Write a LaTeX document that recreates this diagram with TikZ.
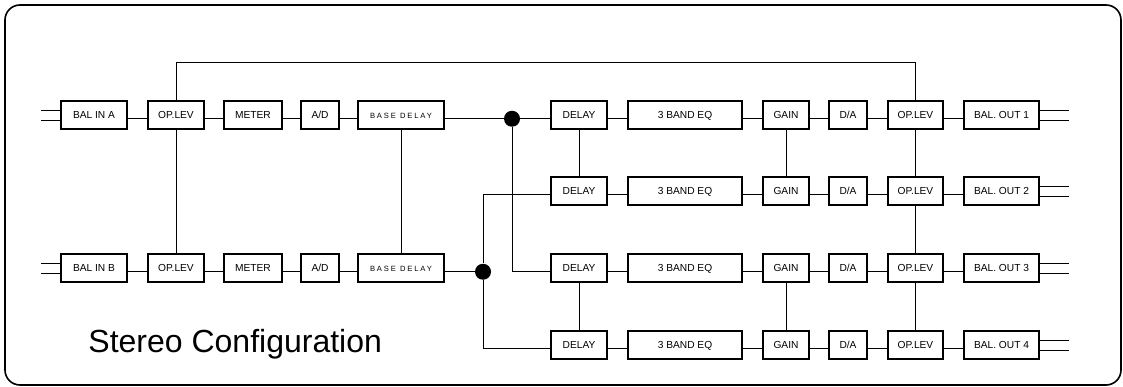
\documentclass[tikz,border=0pt]{standalone}
\usepackage{fontspec}
\setmainfont{Liberation Sans}
\newfontfamily\spacedfont[LetterSpace=25]{Liberation Sans}

\tikzset{
  blk/.style={draw, line width=1.8pt, minimum height=28pt, inner sep=0pt,
    text height=7.5pt, text depth=0pt, font=\fontsize{10.2}{12}\selectfont},
  jdot/.style={circle, fill, inner sep=0pt, minimum size=16pt},
}

\begin{document}
\begin{tikzpicture}[x=1pt, y=-1pt, line width=0.9pt]
    \useasboundingbox (0,0) rectangle (1123,387);
    \draw[line width=1.6pt, rounded corners=15pt] (5,5) rectangle (1121,385);

    % Input A
    \node[blk, minimum width=66pt] (inA) at (94,115) {BAL IN A};
    \node[blk, minimum width=56pt] (opA) at (176,115) {OP.LEV};
    \node[blk, minimum width=58pt] (mtA) at (253,115) {METER};
    \node[blk, minimum width=38pt] (adA) at (320,115) {A/D};
    \node[blk, minimum width=86pt] (bdA) at (401,115) {\spacedfont\fontsize{7.6}{8}\selectfont BASE DELAY};

    % Input B
    \node[blk, minimum width=66pt] (inB) at (94,268) {BAL IN B};
    \node[blk, minimum width=56pt] (opB) at (176,268) {OP.LEV};
    \node[blk, minimum width=58pt] (mtB) at (253,268) {METER};
    \node[blk, minimum width=38pt] (adB) at (320,268) {A/D};
    \node[blk, minimum width=86pt] (bdB) at (401,268) {\spacedfont\fontsize{7.6}{8}\selectfont BASE DELAY};

    % Output 1
    \node[blk, minimum width=56pt] (dl1) at (579,115) {DELAY};
    \node[blk, minimum width=114pt] (eq1) at (685,115) {3 BAND EQ};
    \node[blk, minimum width=46pt] (gn1) at (786,115) {GAIN};
    \node[blk, minimum width=38pt] (da1) at (848,115) {D/A};
    \node[blk, minimum width=55pt] (op1) at (915.5,115) {OP.LEV};
    \node[blk, minimum width=75pt] (out1) at (1001.5,115) {BAL. OUT 1};

    % Output 2
    \node[blk, minimum width=56pt] (dl2) at (579,191) {DELAY};
    \node[blk, minimum width=114pt] (eq2) at (685,191) {3 BAND EQ};
    \node[blk, minimum width=46pt] (gn2) at (786,191) {GAIN};
    \node[blk, minimum width=38pt] (da2) at (848,191) {D/A};
    \node[blk, minimum width=55pt] (op2) at (915.5,191) {OP.LEV};
    \node[blk, minimum width=75pt] (out2) at (1001.5,191) {BAL. OUT 2};

    % Output 3
    \node[blk, minimum width=56pt] (dl3) at (579,268) {DELAY};
    \node[blk, minimum width=114pt] (eq3) at (685,268) {3 BAND EQ};
    \node[blk, minimum width=46pt] (gn3) at (786,268) {GAIN};
    \node[blk, minimum width=38pt] (da3) at (848,268) {D/A};
    \node[blk, minimum width=55pt] (op3) at (915.5,268) {OP.LEV};
    \node[blk, minimum width=75pt] (out3) at (1001.5,268) {BAL. OUT 3};

    % Output 4
    \node[blk, minimum width=56pt] (dl4) at (579,345) {DELAY};
    \node[blk, minimum width=114pt] (eq4) at (685,345) {3 BAND EQ};
    \node[blk, minimum width=46pt] (gn4) at (786,345) {GAIN};
    \node[blk, minimum width=38pt] (da4) at (848,345) {D/A};
    \node[blk, minimum width=55pt] (op4) at (915.5,345) {OP.LEV};
    \node[blk, minimum width=75pt] (out4) at (1001.5,345) {BAL. OUT 4};

    % Junctions
    \node[jdot] (jA) at (512,0 |- bdA.base east) {};
    \node[jdot] (jB) at (483,0 |- bdB.base east) {};

    % Chains along the rows
    \draw (inA.base east) -- (opA.base west) (opA.base east) -- (mtA.base west)
          (mtA.base east) -- (adA.base west) (adA.base east) -- (bdA.base west);
    \draw (inB.base east) -- (opB.base west) (opB.base east) -- (mtB.base west)
          (mtB.base east) -- (adB.base west) (adB.base east) -- (bdB.base west);
    \draw (dl1.base east) -- (eq1.base west) (eq1.base east) -- (gn1.base west)
          (gn1.base east) -- (da1.base west) (da1.base east) -- (op1.base west)
          (op1.base east) -- (out1.base west);
    \draw (dl2.base east) -- (eq2.base west) (eq2.base east) -- (gn2.base west)
          (gn2.base east) -- (da2.base west) (da2.base east) -- (op2.base west)
          (op2.base east) -- (out2.base west);
    \draw (dl3.base east) -- (eq3.base west) (eq3.base east) -- (gn3.base west)
          (gn3.base east) -- (da3.base west) (da3.base east) -- (op3.base west)
          (op3.base east) -- (out3.base west);
    \draw (dl4.base east) -- (eq4.base west) (eq4.base east) -- (gn4.base west)
          (gn4.base east) -- (da4.base west) (da4.base east) -- (op4.base west)
          (op4.base east) -- (out4.base west);

    % Splitting to the outputs
    \draw (bdA.base east) -- (jA) -- (dl1.base west);
    \draw (jA) |- (dl3.base west);
    \draw (bdB.base east) -- (jB);
    \draw (jB) |- (dl2.base west);
    \draw (jB) |- (dl4.base west);

    % Links between the rows
    \coordinate (top) at (0,62);
    \draw (opA.north) -- (opA.north |- top) -| (op1.north);
    \draw (opA.south) -- (opB.north);
    \draw (bdA.south) -- (bdB.north);
    \draw (dl1.south) -- (dl2.north);
    \draw (dl3.south) -- (dl4.north);
    \draw (gn1.south) -- (gn2.north);
    \draw (gn3.south) -- (gn4.north);
    \draw (op1.south) -- (op2.north);
    \draw (op2.south) -- (op3.north);
    \draw (op3.south) -- (op4.north);

    % Balanced inputs and outputs
    \coordinate (srcA) at (41,115);
    \coordinate (srcB) at (41,268);
    \draw ([yshift=5pt]inA.west) -- ([yshift=5pt]srcA) ([yshift=-5pt]inA.west) -- ([yshift=-5pt]srcA);
    \draw ([yshift=5pt]inB.west) -- ([yshift=5pt]srcB) ([yshift=-5pt]inB.west) -- ([yshift=-5pt]srcB);
    \coordinate (snk1) at (1069,115);
    \coordinate (snk2) at (1069,191);
    \coordinate (snk3) at (1069,268);
    \coordinate (snk4) at (1069,345);
    \draw ([yshift=5pt]out1.east) -- ([yshift=5pt]snk1) ([yshift=-5pt]out1.east) -- ([yshift=-5pt]snk1);
    \draw ([yshift=5pt]out2.east) -- ([yshift=5pt]snk2) ([yshift=-5pt]out2.east) -- ([yshift=-5pt]snk2);
    \draw ([yshift=5pt]out3.east) -- ([yshift=5pt]snk3) ([yshift=-5pt]out3.east) -- ([yshift=-5pt]snk3);
    \draw ([yshift=5pt]out4.east) -- ([yshift=5pt]snk4) ([yshift=-5pt]out4.east) -- ([yshift=-5pt]snk4);

    % Caption
    \node[anchor=base west, inner sep=0pt, font=\fontsize{32}{36}\selectfont] (title) at (88,352) {Stereo Configuration};
\end{tikzpicture}
\end{document}
